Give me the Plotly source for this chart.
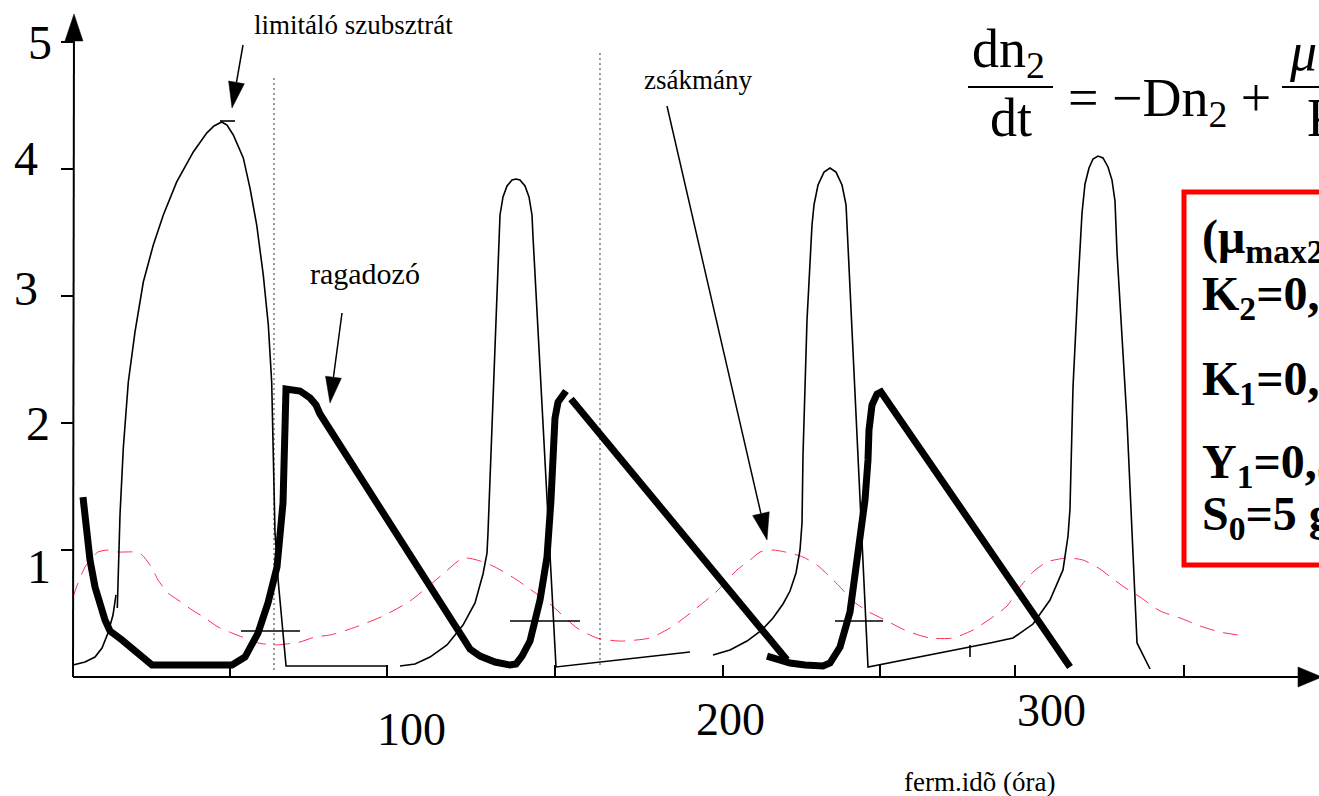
import plotly.graph_objects as go

# ---------------- data ----------------
# limiting substrate (thin black), segments separated by None
substrate_time = [0, 3.77, 6.92, 9.12, 11.0, 12.58, 13.52, None,
                  13.93, 14.78, 15.82, 17.39, 19.5, 22.11, 25.25, 28.4, 32.61, 37.83, 42.04, 44.34, 46.76,
                  48.43, 50.41, 53.55, 55.66, 57.77, 59.84, 61.42, 62.48, 62.99, 63.52, 64.56, 65.97,
                  67.0, 98.74, None,
                  102.83, 107.55, 112.26, 117.61, 122.64, 126.42, 128.93, 130.19, 130.5, 133.96, 134.28,
                  135.22, 136.48, 138.05, 139.31, 140.57, 142.14, 143.4, 144.34, 144.66, 151.89, 194.0, None,
                  201.26, 206.6, 211.95, 216.67, 220.13, 223.27, 225.47, 227.36, 228.62, 229.25, 229.56,
                  230.82, 232.39, 233.02, 234.28, 236.17, 238.05, 239.94, 241.83, 243.09, 243.4, 250.0,
                  288.36, 295.6, 301.89, 307.23, 311.32, 312.9, 313.52, 314.47, 316.04, 317.3, 318.24,
                  319.5, 320.75, 322.33, 323.9, 325.47, 326.73, 327.67, 328.3, 331.45, 334.6, 338.69, None,
                  46.23, 50.94, None,
                  282.08, 282.08]
substrate_conc = [0.094, 0.118, 0.157, 0.228, 0.346, 0.488, 0.646, None,
                  0.543, 1.276, 1.803, 2.323, 2.717, 3.11, 3.402, 3.638, 3.898, 4.134, 4.283, 4.339, 4.37,
                  4.346, 4.268, 4.087, 3.85, 3.559, 3.165, 2.772, 2.323, 1.803, 1.142, 0.748, 0.331,
                  0.087, 0.087, None,
                  0.087, 0.102, 0.157, 0.252, 0.409, 0.583, 0.811, 0.976, 1.134, 3.465, 3.638,
                  3.78, 3.866, 3.913, 3.921, 3.913, 3.866, 3.78, 3.638, 3.465, 0.079, 0.197, None,
                  0.173, 0.213, 0.283, 0.37, 0.465, 0.575, 0.677, 0.819, 1.0, 1.213, 1.748,
                  2.811, 3.559, 3.717, 3.874, 3.976, 4.008, 3.976, 3.874, 3.717, 3.559, 0.079,
                  0.268, 0.307, 0.417, 0.606, 0.843, 1.11, 1.323, 2.283, 3.087, 3.654, 3.882,
                  4.008, 4.079, 4.102, 4.087, 4.016, 3.913, 3.748, 3.346, 2.016, 0.268, 0.063, None,
                  4.378, 4.378, None,
                  0.157, 0.252]

# predator (thick black)
predator_time = [3.14, 4.09, 5.35, 6.92, 8.49, 10.06, 11.64, 15.41, 24.84, 50.0, 54.09, 58.18, 61.32,
                 64.15, 66.04, 66.67, 66.98, 71.38, 74.53, 76.42, 77.67, 123.27, 124.84, 127.99, 132.7,
                 137.42, 139.31, 141.2, 143.71, 146.86, 149.06, 150.31, 150.94, 151.57, 152.52, 154.09,
                 155.03, None,
                 156.6, 224.53, None,
                 218.24, 221.7, 225.47, 230.19, 235.85, 238.05, 241.2, 244.34, 247.48, 249.06, 250.0,
                 250.31, 251.26, 252.83, 254.09, 313.52]
predator_conc = [1.417, 1.157, 0.921, 0.709, 0.567, 0.449, 0.362, 0.291, 0.094, 0.094, 0.157, 0.346, 0.583,
                 0.866, 1.37, 1.787, 2.268, 2.252, 2.197, 2.142, 2.071, 0.283, 0.22, 0.165, 0.118,
                 0.094, 0.102, 0.165, 0.283, 0.606, 0.945, 1.394, 1.866, 2.039, 2.165, 2.236,
                 2.252, None,
                 2.189, 0.134, None,
                 0.165, 0.134, 0.11, 0.094, 0.087, 0.11, 0.236, 0.512, 1.039, 1.394, 1.709,
                 1.945, 2.142, 2.228, 2.244, 0.079]

# prey (red dashed)
prey_time = [0, 1.57, 3.77, 5.35, 7.86, 11.0, 14.15, 19.5, 21.7, 24.84,
             26.73, 29.87, 33.02, 37.42, 41.51, 45.6, 50.0, 54.09, 58.18, 63.52,
             71.38, 76.1, 80.82, 88.05, 97.48, 105.97, 116.35, 122.64, 127.04, 132.7,
             139.62, 150.0, 158.49, 164.78, 172.01, 181.45, 187.74, 190.88, 194.97, 202.52,
             208.81, 212.89, 216.04, 220.13, 225.47, 229.56, 233.96, 237.42, 241.2, 245.28,
             249.69, 254.72, 262.26, 269.5, 276.73, 283.02, 288.36, 293.71, 297.8, 301.89,
             306.29, 312.58, 317.61, 322.96, 327.04, 331.45, 335.53, 341.82, 348.11, 354.4,
             360.69, 368.55]
prey_conc = [0.63, 0.74, 0.866, 0.921, 0.984, 1.0, 0.984, 0.984, 0.961, 0.858,
             0.764, 0.661, 0.606, 0.528, 0.465, 0.394, 0.346, 0.307, 0.268, 0.252,
             0.276, 0.315, 0.331, 0.386, 0.48, 0.598, 0.811, 0.937, 0.921, 0.866,
             0.764, 0.575, 0.386, 0.307, 0.283, 0.307, 0.386, 0.441, 0.52, 0.677,
             0.843, 0.921, 0.984, 1.0, 0.976, 0.945, 0.882, 0.803, 0.709, 0.598,
             0.52, 0.457, 0.362, 0.307, 0.307, 0.37, 0.457, 0.559, 0.709, 0.827,
             0.906, 0.937, 0.921, 0.85, 0.772, 0.693, 0.63, 0.52, 0.465, 0.402,
             0.354, 0.323]

# dotted vertical guide lines and short horizontal marks
guide_time = [63.21, 63.21, None, 165.72, 165.72]
guide_conc = [0.055, 4.74, None, 0.094, 4.92]
mark_time = [52.83, 71.38, None, 137.42, 159.43, None, 239.62, 254.72]
mark_conc = [0.362, 0.362, None, 0.441, 0.441, None, 0.441, 0.441]

# axis ticks and labels
x_tick_values = [49.4, 98.7, 151.6, 204.4, 253.8, 296.2, 349.4]
x_tick_labels = ["100", "200", "300"]
y_tick_values = [1, 2, 3, 4, 5]
y_tick_labels = ["1", "2", "3", "4", "5"]

# ---------------- layout geometry ----------------
FIG_W, FIG_H = 1319, 796
M_L, M_R, M_T, M_B = 60, 0, 0, 96
PLOT_W = FIG_W - M_L - M_R
PLOT_H = FIG_H - M_T - M_B
ORIGIN_PX, ORIGIN_PY = 73, 677      # pixel of (0, 0)
PX_PER_X, PX_PER_Y = 3.18, 127.0

def xp(px):
    return (px - M_L) / PLOT_W

def yp(py):
    return (M_T + PLOT_H - py) / PLOT_H

SERIF = "Liberation Serif, Times New Roman, serif"

fig = go.Figure()
fig.add_trace(go.Scatter(x=prey_time, y=prey_conc, mode="lines", line=dict(color="#ff2d55", width=1, dash="15px,9px", shape="spline", smoothing=0.6), hoverinfo="skip"))
fig.add_trace(go.Scatter(x=guide_time, y=guide_conc, mode="lines", line=dict(color="#333", width=1, dash="2px,3px"), hoverinfo="skip"))
fig.add_trace(go.Scatter(x=mark_time, y=mark_conc, mode="lines", line=dict(color="black", width=1.5), hoverinfo="skip"))
fig.add_trace(go.Scatter(x=substrate_time, y=substrate_conc, mode="lines", line=dict(color="black", width=1.6), hoverinfo="skip"))
fig.add_trace(go.Scatter(x=predator_time, y=predator_conc, mode="lines", line=dict(color="black", width=7), hoverinfo="skip"))

shapes = []

def arrow(sx, sy, tx, ty, L, W, lw=1.5):
    dx, dy = tx - sx, ty - sy
    n = (dx * dx + dy * dy) ** 0.5
    ux, uy = dx / n, dy / n
    bx, by = tx - L * ux, ty - L * uy
    nx, ny = -uy, ux
    shapes.append(dict(type="line", xref="paper", yref="paper", x0=xp(sx), y0=yp(sy), x1=xp(bx), y1=yp(by),
                       line=dict(color="black", width=lw)))
    path = "M {:.5f},{:.5f} L {:.5f},{:.5f} L {:.5f},{:.5f} Z".format(
        xp(tx), yp(ty), xp(bx + nx * W / 2), yp(by + ny * W / 2), xp(bx - nx * W / 2), yp(by - ny * W / 2))
    shapes.append(dict(type="path", xref="paper", yref="paper", path=path, fillcolor="black",
                       line=dict(color="black", width=0.5)))

# axes with arrows
arrow(73, 677, 74, 14, 27, 18, lw=2)
arrow(73, 677, 1322, 677, 24, 20, lw=2)
# label arrows
arrow(243, 45, 232, 108, 26, 16)
arrow(342, 313, 330, 403, 26, 16)
arrow(667, 106, 767, 540, 27, 17)

# fraction bars
shapes.append(dict(type="line", xref="paper", yref="paper", x0=xp(968), x1=xp(1053), y0=yp(87), y1=yp(87), line=dict(color="black", width=2)))
shapes.append(dict(type="line", xref="paper", yref="paper", x0=xp(1282), x1=xp(1340), y0=yp(87), y1=yp(87), line=dict(color="black", width=2)))
# red parameter box
shapes.append(dict(type="rect", xref="paper", yref="paper", x0=xp(1184), x1=xp(1400), y0=yp(565), y1=yp(192), line=dict(color="#ff0000", width=5), fillcolor="rgba(0,0,0,0)"))

ann = []

def text(t, px, py, size, anchor="center", bold=False):
    if bold:
        t = "<b>" + t + "</b>"
    ann.append(dict(x=xp(px), y=yp(py), xref="paper", yref="paper", text=t, showarrow=False,
                    xanchor=anchor, yanchor="middle", font=dict(family=SERIF, size=size, color="black")))

text("limitáló szubsztrát", 353, 25, 27)
text("ragadozó", 365, 273, 30)
text("zsákmány", 698, 80, 27)
text("ferm.idõ (óra)", 979, 782, 27)

for lab, (px, py) in zip(x_tick_labels, [(411, 729), (730, 719), (1051, 710)]):
    text(lab, px, py, 46)
for lab, (px, py) in zip(y_tick_labels, [(39, 566), (38, 424), (26, 288), (26, 158), (40, 42)]):
    text(lab, px, py, 48)

# equation
text("dn<sub>2</sub>", 1008, 52, 54)
text("dt", 1011, 118, 54)
text("= −Dn<sub>2</sub> +", 1066, 102, 54, anchor="left")
text("<i>μ</i>", 1287, 52, 54, anchor="left")
text("K", 1305, 118, 54, anchor="left")

# parameter box text
text("(μ<sub>max2</sub>=0,2", 1200, 240, 48, anchor="left", bold=True)
text("K<sub>2</sub>=0,1", 1200, 297, 48, anchor="left", bold=True)
text("K<sub>1</sub>=0,1", 1200, 382, 48, anchor="left", bold=True)
text("Y<sub>1</sub>=0,5", 1200, 465, 48, anchor="left", bold=True)
text("S<sub>0</sub>=5 g/l", 1200, 517, 48, anchor="left", bold=True)

x_range = [(M_L - ORIGIN_PX) / PX_PER_X, (FIG_W - M_R - ORIGIN_PX) / PX_PER_X]
y_range = [(ORIGIN_PY - (M_T + PLOT_H)) / PX_PER_Y, (ORIGIN_PY - M_T) / PX_PER_Y]

fig.update_layout(
    width=FIG_W, height=FIG_H,
    margin=dict(l=M_L, r=M_R, t=M_T, b=M_B, pad=0),
    paper_bgcolor="white", plot_bgcolor="white",
    showlegend=False,
    shapes=shapes, annotations=ann,
    xaxis=dict(range=x_range, showgrid=False, zeroline=False, showline=False,
               tickmode="array", tickvals=x_tick_values, showticklabels=False,
               ticks="inside", ticklen=12, tickwidth=1.5, tickcolor="black",
               anchor="free", position=yp(ORIGIN_PY)),
    yaxis=dict(range=y_range, showgrid=False, zeroline=False, showline=False,
               tickmode="array", tickvals=y_tick_values, showticklabels=False,
               ticks="outside", ticklen=12, tickwidth=1.5, tickcolor="black",
               anchor="free", position=xp(ORIGIN_PX)),
)

fig.write_html("out.html", config={"displayModeBar": False},
               post_script="document.body.style.margin='0';")
